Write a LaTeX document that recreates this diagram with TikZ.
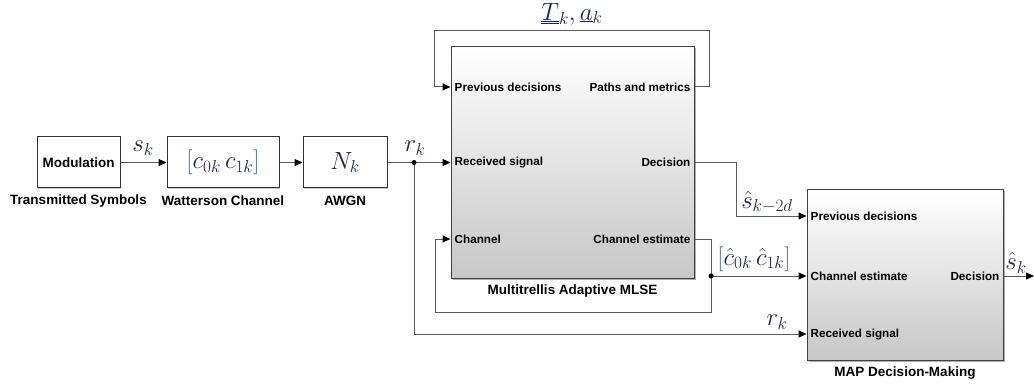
\documentclass[tikz,border=0pt]{standalone}
\usepackage[no-math]{fontspec}
\newfontfamily\arial{Liberation Sans}
\usetikzlibrary{arrows.meta,shadows,calc}
\definecolor{linegray}{RGB}{90,90,90}
\definecolor{mathnavy}{RGB}{28,36,80}
\definecolor{brblue}{RGB}{60,100,175}
\begin{document}
\begin{tikzpicture}[x=1pt,y=-1pt,
  conn/.style={draw=linegray,line width=1pt},
  arr/.style={conn,-{Triangle[length=8pt,width=7pt,color=black]}},
  smallbox/.style={draw=black!80,line width=1pt,fill=white,inner sep=0pt,
    drop shadow={shadow xshift=1pt,shadow yshift=-1pt,fill=black!35,opacity=0.6}},
  bigbox/.style={draw=black!75,line width=1pt,inner sep=0pt,top color=white,
    middle color=black!4,bottom color=black!22,
    drop shadow={shadow xshift=1.5pt,shadow yshift=-1.5pt,fill=black!45,opacity=0.7}},
  blabel/.style={font=\arial\bfseries\fontsize{13.5}{16}\selectfont,inner sep=0pt},
  plabel/.style={font=\arial\bfseries\fontsize{11.7}{14}\selectfont,inner sep=0pt},
  mlabel/.style={font=\fontsize{23}{26}\selectfont,text=mathnavy,inner sep=0pt},
  jdot/.style={circle,fill=black,inner sep=0pt,minimum size=5pt}
]
\useasboundingbox (0,0) rectangle (1034,385);
\fill[white] (0,0) rectangle (1034,385);

% small blocks
\node[smallbox,minimum width=83pt,minimum height=51pt] (mod) at (78.5,162.5) {};
\node[blabel] at (mod) {Modulation};
\node[smallbox,minimum width=112pt,minimum height=51pt] (wat) at (223,162.5) {};
\node[mlabel] at (wat) {$\color{brblue}[\color{mathnavy}c_{0k}\,c_{1k}\color{brblue}]$};
\node[smallbox,minimum width=84pt,minimum height=51pt] (awgn) at (345,162.5) {};
\node[mlabel] at (awgn) {$N_k$};

\node[blabel] (modl) at (78.5,201) {Transmitted Symbols};
\node[blabel] (watl) at (223,201) {Watterson Channel};
\node[blabel] (awgnl) at (345,201) {AWGN};

% big blocks
\node[bigbox,minimum width=243pt,minimum height=231pt] (mlse) at (572.5,162.5) {};
\node[blabel] (mlsel) at (572.5,291) {Multitrellis Adaptive MLSE};
\node[bigbox,minimum width=196pt,minimum height=170pt] (map) at (905,275) {};
\node[blabel] (mapl) at (905,373) {MAP Decision-Making};

% ports of MLSE
\coordinate (mpi) at (mlse.west |- 0,87);
\coordinate (mri) at (mlse.west |- 0,162.5);
\coordinate (mci) at (mlse.west |- 0,239);
\coordinate (mpo) at (mlse.east |- 0,87);
\coordinate (mdo) at (mlse.east |- 0,162.5);
\coordinate (mco) at (mlse.east |- 0,239);
\node[plabel,anchor=west] (tpi) at ($(mpi)+(4,0)$) {Previous decisions};
\node[plabel,anchor=west] (tri) at ($(mri)+(4,0)$) {Received signal};
\node[plabel,anchor=west] (tci) at ($(mci)+(4,0)$) {Channel};
\node[plabel,anchor=east] (tpo) at ($(mpo)+(-4,0)$) {Paths and metrics};
\node[plabel,anchor=east] (tdo) at ($(mdo)+(-4,0)$) {Decision};
\node[plabel,anchor=east] (tco) at ($(mco)+(-4,0)$) {Channel estimate};

% ports of MAP
\coordinate (api) at (map.west |- 0,216);
\coordinate (aci) at (map.west |- 0,276);
\coordinate (ari) at (map.west |- 0,334);
\coordinate (ado) at (map.east |- 0,276);
\node[plabel,anchor=west] (tapi) at ($(api)+(4,0)$) {Previous decisions};
\node[plabel,anchor=west] (taci) at ($(aci)+(4,0)$) {Channel estimate};
\node[plabel,anchor=west] (tari) at ($(ari)+(4,0)$) {Received signal};
\node[plabel,anchor=east] (tado) at ($(ado)+(-4,0)$) {Decision};

% routing points
\coordinate (j1) at (414,162.5);
\coordinate (j2) at (711,276);
\coordinate (outend) at (1034,276);

% connectors
\draw[arr] (mod.east) -- (wat.west);
\draw[arr] (wat.east) -- (awgn.west);
\draw[arr] (awgn.east) -- (mri);
\draw[arr] (j1) -- (414,334) -- (ari);
\draw[arr] (mpo) -- (709,87) -- (709,31) -- (434,31) -- (434,87) -- (mpi);
\draw[arr] (mdo) -- (736,162.5) -- (736,216) -- (api);
\draw[arr] (mco) -- (711,239) -- (711,312) -- (435,312) -- (435,239) -- (mci);
\draw[arr] (j2) -- (aci);
\draw[arr] (ado) -- (outend);
\node[jdot] at (j1) {};
\node[jdot] at (j2) {};

% signal labels
\node[mlabel] (lsk) at (143,148) {$s_k$};
\node[mlabel] (lrk) at (415,148) {$r_k$};
\node[mlabel] (lT) at (572,14) {$\underline{\underline{T}}_k,\underline{a}_k$};
\node[mlabel] (lsh) at (767,202) {$\hat{s}_{k-2d}$};
\node[mlabel] (lch) at (754,259) {$\color{brblue}[\color{mathnavy}\hat{c}_{0k}\,\hat{c}_{1k}\color{brblue}]$};
\node[mlabel] (lrk2) at (777,322) {$r_k$};
\node[mlabel] (lsk2) at (1016,263) {$\hat{s}_k$};
\end{tikzpicture}
\end{document}
